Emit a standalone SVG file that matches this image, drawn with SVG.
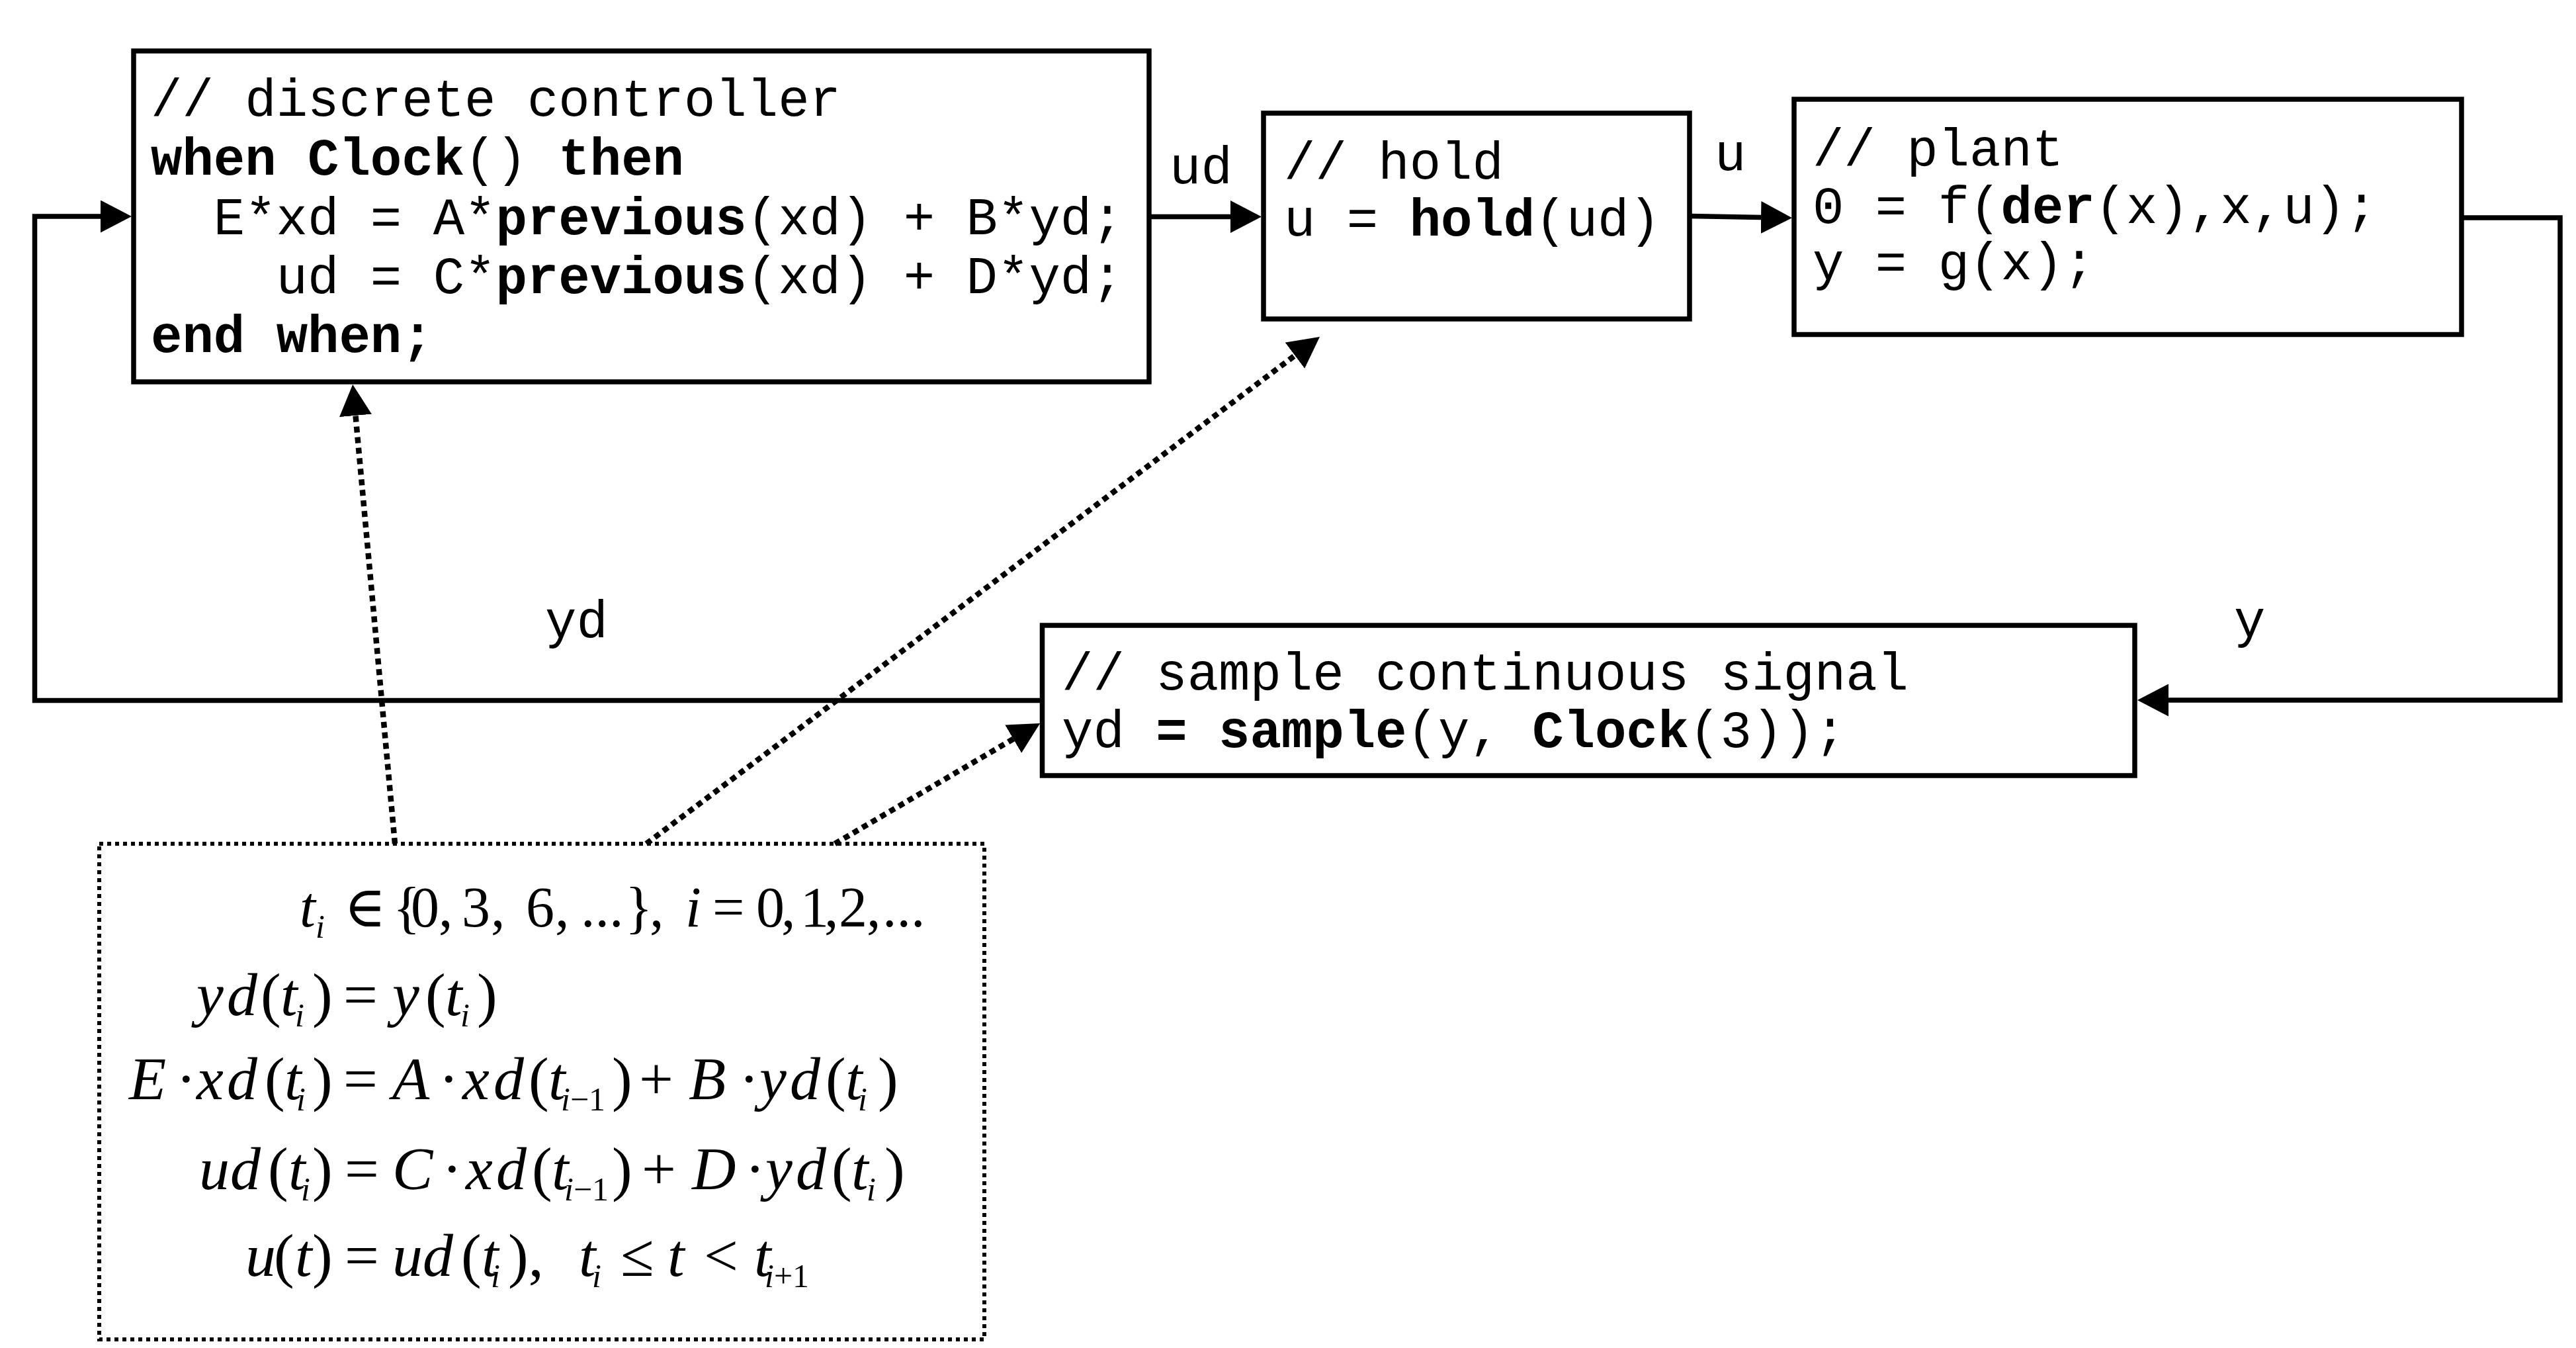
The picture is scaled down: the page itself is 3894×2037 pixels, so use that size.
<svg xmlns="http://www.w3.org/2000/svg" width="3894" height="2037" viewBox="0 0 3894 2037">
<style>
.box{fill:#fff;stroke:#000;stroke-width:7.5}
.note{fill:#fff;stroke:#000;stroke-width:6;stroke-dasharray:6 6}
.code{font-family:"Liberation Mono","Courier New",monospace;font-size:79px;fill:#000}
.b{font-weight:bold}
.wire{fill:none;stroke:#000;stroke-width:7.5;marker-end:url(#arrow)}
.dot{fill:none;stroke:#000;stroke-width:8.5;stroke-dasharray:9 7;marker-end:url(#arrow)}
.m{font-family:"Liberation Serif","Times New Roman","DejaVu Serif",serif;font-size:92px;fill:#000}
.m1{font-size:86px}
.i{font-style:italic}
.s{font-size:50px}
</style>
<defs>
<marker id="arrow" markerUnits="userSpaceOnUse" viewBox="0 0 47 49" markerWidth="47" markerHeight="49" refX="27" refY="24.5" orient="auto">
<path d="M0,0 L47,24.5 L0,49 z" fill="#000"/>
</marker>
</defs>
<rect x="0" y="0" width="3894" height="2037" fill="#fff"/>

<g id="controller">
<rect class="box" x="202" y="77" width="1535" height="500"/>
<text class="code" x="228" y="175">// discrete controller</text>
<text class="code" x="228" y="264"><tspan class="b">when Clock</tspan>() <tspan class="b">then</tspan></text>
<text class="code" x="322.8" y="354">E*xd = A*<tspan class="b">previous</tspan>(xd) + B*yd;</text>
<text class="code" x="417.6" y="443">ud = C*<tspan class="b">previous</tspan>(xd) + D*yd;</text>
<text class="code b" x="228" y="532">end when;</text>
</g>

<g id="hold">
<rect class="box" x="1910" y="171" width="644" height="311"/>
<text class="code" x="1941" y="270">// hold</text>
<text class="code" x="1941" y="356">u = <tspan class="b">hold</tspan>(ud)</text>
</g>

<g id="plant">
<rect class="box" x="2712" y="150" width="1009" height="355.5"/>
<text class="code" x="2740" y="250">// plant</text>
<text class="code" x="2740" y="337">0 = f(<tspan class="b">der</tspan>(x),x,u);</text>
<text class="code" x="2740" y="422">y = g(x);</text>
</g>

<g id="sample">
<rect class="box" x="1575.5" y="945" width="1651.5" height="227"/>
<text class="code" x="1605" y="1042">// sample continuous signal</text>
<text class="code" x="1605" y="1129">yd <tspan class="b">= sample</tspan>(y, <tspan class="b">Clock</tspan>(3));</text>
</g>

<g id="equations">
<rect class="note" x="150" y="1275" width="1338" height="749"/>
<text class="m m1" y="1400"><tspan class="i" x="453">t</tspan><tspan class="i s" x="477" y="1417">i</tspan><tspan x="520" y="1400">∈</tspan><tspan x="594">{</tspan><tspan x="621">0</tspan><tspan x="663">,</tspan><tspan x="698">3</tspan><tspan x="742">,</tspan><tspan x="795">6</tspan><tspan x="839">,</tspan><tspan x="878">...</tspan><tspan x="945">}</tspan><tspan x="982">,</tspan><tspan class="i" x="1036">i</tspan><tspan x="1077">=</tspan><tspan x="1143">0</tspan><tspan x="1181">,</tspan><tspan x="1210">1</tspan><tspan x="1246">,</tspan><tspan x="1268">2</tspan><tspan x="1310">,</tspan><tspan x="1334">...</tspan></text>
<text class="m" y="1534"><tspan class="i" x="297">y</tspan><tspan class="i" x="343">d</tspan><tspan x="394">(</tspan><tspan class="i" x="424">t</tspan><tspan class="i s" x="446" y="1551">i</tspan><tspan x="472" y="1534">)</tspan><tspan x="519">=</tspan><tspan class="i" x="593">y</tspan><tspan x="643">(</tspan><tspan class="i" x="673">t</tspan><tspan class="i s" x="696" y="1551">i</tspan><tspan x="721" y="1534">)</tspan></text>
<text class="m" y="1661"><tspan class="i" x="195">E</tspan><tspan x="266">·</tspan><tspan class="i" x="297">x</tspan><tspan class="i" x="343">d</tspan><tspan x="400">(</tspan><tspan class="i" x="430">t</tspan><tspan class="i s" x="448" y="1678">i</tspan><tspan x="472" y="1661">)</tspan><tspan x="519">=</tspan><tspan class="i" x="593">A</tspan><tspan x="663">·</tspan><tspan class="i" x="699">x</tspan><tspan class="i" x="746">d</tspan><tspan x="799">(</tspan><tspan class="i" x="829">t</tspan><tspan class="s" x="848" y="1678"><tspan class="i">i</tspan>−1</tspan><tspan x="925" y="1661">)</tspan><tspan x="966">+</tspan><tspan class="i" x="1041">B</tspan><tspan x="1117">·</tspan><tspan class="i" x="1148">y</tspan><tspan class="i" x="1194">d</tspan><tspan x="1248">(</tspan><tspan class="i" x="1278">t</tspan><tspan class="i s" x="1297" y="1678">i</tspan><tspan x="1327" y="1661">)</tspan></text>
<text class="m" y="1797"><tspan class="i" x="301">u</tspan><tspan class="i" x="348">d</tspan><tspan x="405">(</tspan><tspan class="i" x="436">t</tspan><tspan class="i s" x="455" y="1814">i</tspan><tspan x="472" y="1797">)</tspan><tspan x="521">=</tspan><tspan class="i" x="593">C</tspan><tspan x="668">·</tspan><tspan class="i" x="704">x</tspan><tspan class="i" x="750">d</tspan><tspan x="804">(</tspan><tspan class="i" x="834">t</tspan><tspan class="s" x="853" y="1814"><tspan class="i">i</tspan>−1</tspan><tspan x="925" y="1797">)</tspan><tspan x="970">+</tspan><tspan class="i" x="1046">D</tspan><tspan x="1126">·</tspan><tspan class="i" x="1157">y</tspan><tspan class="i" x="1203">d</tspan><tspan x="1257">(</tspan><tspan class="i" x="1287">t</tspan><tspan class="i s" x="1310" y="1814">i</tspan><tspan x="1337" y="1797">)</tspan></text>
<text class="m" y="1928"><tspan class="i" x="371">u</tspan><tspan x="414">(</tspan><tspan class="i" x="446">t</tspan><tspan x="472">)</tspan><tspan x="521">=</tspan><tspan class="i" x="593">u</tspan><tspan class="i" x="639">d</tspan><tspan x="697">(</tspan><tspan class="i" x="728">t</tspan><tspan class="i s" x="742" y="1945">i</tspan><tspan x="768" y="1928">),</tspan><tspan class="i" x="875">t</tspan><tspan class="i s" x="895" y="1945">i</tspan><tspan x="938" y="1928">≤</tspan><tspan class="i" x="1009">t</tspan><tspan x="1064">&lt;</tspan><tspan class="i" x="1140">t</tspan><tspan class="s" x="1156" y="1945"><tspan class="i">i</tspan>+1</tspan></text>
</g>

<g id="connectors">
<path class="wire" d="M1737,327.5 H1887"/>
<path class="wire" d="M2554,326.5 L2689,329"/>
<path class="wire" d="M3721,329 H3870 V1058 H3251"/>
<path class="wire" d="M1575.5,1058.5 H52.5 V327 H179"/>
<path class="dot" d="M597,1275 L535,601"/>
<path class="dot" d="M977,1275 L1979,521"/>
<path class="dot" d="M1262,1275 L1555,1103"/>
<text class="code" x="1768" y="277">ud</text>
<text class="code" x="2592" y="257">u</text>
<text class="code" x="824" y="963">yd</text>
<text class="code" x="3377" y="962">y</text>
</g>
</svg>
